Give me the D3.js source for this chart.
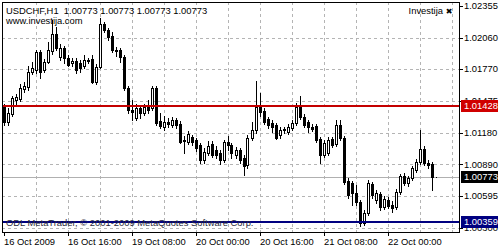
<!DOCTYPE html>
<html>
<head>
<meta charset="utf-8">
<script src="https://cdn.jsdelivr.net/npm/d3@7"></script>
<style>
  body { margin: 0; background: white; }
  text { font-family: "Liberation Sans", Arial, sans-serif; }
</style>
</head>
<body>
<div class="chart"></div>
<script>

// H1 candles, one per bar index
var opens = [1.01421,1.01282,1.01356,1.01485,1.01495,1.01587,1.01606,1.01744,1.01763,1.01930,
  1.01763,1.01837,1.01939,1.02096,1.01883,1.01967,1.01874,1.01828,1.01846,1.01828,
  1.01800,1.01856,1.01865,1.01652,1.01791,1.02189,1.02133,1.02078,1.01948,1.01948,
  1.01883,1.01596,1.01393,1.01319,1.01411,1.01365,1.01421,1.01411,1.01596,1.01291,
  1.01235,1.01282,1.01254,1.01300,1.01263,1.01115,1.01097,1.01143,1.01115,1.01069,
  1.00930,1.00995,1.01078,1.01022,1.00995,1.00930,1.01097,1.01069,1.00976,1.01022,
  1.00948,1.00884,1.01134,1.01208,1.01421,1.01383,1.01309,1.01272,1.01254,1.01161,
  1.01208,1.01189,1.01226,1.01272,1.01421,1.01328,1.01282,1.01235,1.01245,1.01124,
  1.00976,1.00995,1.01124,1.01078,1.01254,1.01134,1.00735,1.00717,1.00624,1.00541,
  1.00347,1.00439,1.00708,1.00560,1.00615,1.00495,1.00560,1.00513,1.00495,1.00634,
  1.00782,1.00717,1.00763,1.00837,1.00911,1.01032,1.00902,1.00893,1.00773];
var highs = [1.01448,1.01411,1.01522,1.01541,1.01633,1.01652,1.01800,1.01837,1.01948,1.01948,
  1.01865,1.02022,1.02226,1.02161,1.02004,1.01985,1.01902,1.01874,1.01874,1.01856,
  1.01902,1.01874,1.01902,1.01819,1.02244,1.02207,1.02152,1.02115,1.01976,1.01967,
  1.01902,1.01615,1.01485,1.01448,1.01439,1.01448,1.01485,1.01615,1.01615,1.01365,
  1.01337,1.01319,1.01328,1.01319,1.01291,1.01152,1.01198,1.01161,1.01134,1.01087,
  1.01041,1.01106,1.01106,1.01059,1.01022,1.01115,1.01152,1.01087,1.01050,1.01041,
  1.00976,1.01161,1.01282,1.01661,1.01550,1.01411,1.01328,1.01300,1.01272,1.01235,
  1.01235,1.01263,1.01300,1.01458,1.01522,1.01356,1.01300,1.01263,1.01263,1.01143,
  1.01115,1.01143,1.01143,1.01300,1.01300,1.01152,1.00763,1.00735,1.00698,1.00560,
  1.00467,1.00745,1.00726,1.00652,1.00634,1.00597,1.00587,1.00550,1.00661,1.00800,
  1.00810,1.00782,1.00874,1.00939,1.01208,1.01059,1.00930,1.00911,1.00773];
var lows = [1.01254,1.01254,1.01337,1.01448,1.01476,1.01559,1.01578,1.01726,1.01735,1.01689,
  1.01744,1.01828,1.01911,1.01948,1.01856,1.01828,1.01800,1.01800,1.01735,1.01744,
  1.01782,1.01828,1.01643,1.01633,1.01782,1.02115,1.02041,1.01930,1.01893,1.01837,
  1.01578,1.01365,1.01300,1.01300,1.01319,1.01346,1.01365,1.01393,1.01254,1.01226,
  1.01208,1.01235,1.01235,1.01226,1.01087,1.00995,1.01078,1.01069,1.01013,1.00902,
  1.00902,1.00976,1.00958,1.00948,1.00893,1.00911,1.01022,1.00948,1.00948,1.00902,
  1.00791,1.00856,1.01115,1.01180,1.01337,1.01263,1.01226,1.01189,1.01124,1.01134,
  1.01180,1.01171,1.01208,1.01254,1.01309,1.01235,1.01189,1.01198,1.01097,1.00902,
  1.00958,1.00976,1.01050,1.01059,1.01115,1.00708,1.00578,1.00513,1.00513,1.00319,
  1.00328,1.00421,1.00578,1.00532,1.00467,1.00476,1.00486,1.00449,1.00476,1.00615,
  1.00698,1.00689,1.00745,1.00819,1.00893,1.00884,1.00856,1.00652,1.00773];
var closes = [1.01282,1.01365,1.01504,1.01513,1.01596,1.01615,1.01744,1.01782,1.01930,1.01744,
  1.01837,1.01948,1.02096,1.01967,1.01967,1.01874,1.01809,1.01846,1.01763,1.01782,
  1.01856,1.01846,1.01652,1.01791,1.02189,1.02133,1.02068,1.01948,1.01939,1.01883,
  1.01596,1.01393,1.01374,1.01411,1.01365,1.01421,1.01393,1.01596,1.01272,1.01245,
  1.01282,1.01263,1.01300,1.01254,1.01097,1.01106,1.01171,1.01097,1.01041,1.00930,
  1.01004,1.01059,1.00976,1.00976,1.00930,1.01097,1.01069,1.00995,1.01022,1.00930,
  1.00874,1.01134,1.01208,1.01421,1.01374,1.01282,1.01254,1.01235,1.01134,1.01208,
  1.01217,1.01235,1.01272,1.01421,1.01328,1.01254,1.01235,1.01217,1.01115,1.00976,
  1.01087,1.01115,1.01069,1.01254,1.01134,1.00726,1.00606,1.00624,1.00541,1.00347,
  1.00439,1.00717,1.00606,1.00624,1.00495,1.00569,1.00504,1.00486,1.00634,1.00782,
  1.00717,1.00763,1.00856,1.00911,1.01032,1.00902,1.00884,1.00773,1.00773];

// price axis labels and time axis labels
var priceTicks = [1.02355, 1.02060, 1.01770, 1.01475, 1.01180, 1.00890, 1.00595, 1.00300];
var timeTickBars = [0, 16, 32, 48, 64, 80, 96];
var timeTickLabels = ["16 Oct 2009", "16 Oct 16:00", "19 Oct 08:00", "20 Oct 00:00",
  "20 Oct 16:00", "21 Oct 08:00", "22 Oct 00:00"];

// horizontal line objects + bid
var resistance = 1.01428;
var support = 1.00359;
var bid = 1.00773;

var width = 500, height = 250;
var plot = {left: 2, top: 2, right: 460, bottom: 232};
var fs = 9.4;

var candles = opens.map((o, i) => ({i: i, o: o, h: highs[i], l: lows[i], c: closes[i]}));

var x = d3.scaleLinear().domain([0, 112]).range([3.5, 451.5]);
var y = d3.scaleLinear().domain([1.00300, 1.02355]).range([228, 6]);

var svg = d3.select(".chart").append("svg")
  .attr("width", width)
  .attr("height", height)
  .style("shape-rendering", "crispEdges");

svg.append("rect").attr("width", width).attr("height", height).attr("fill", "white");

svg.append("clipPath").attr("id", "plotclip")
  .append("rect")
  .attr("x", plot.left).attr("y", plot.top)
  .attr("width", plot.right - plot.left).attr("height", plot.bottom - plot.top);

var g = svg.append("g").attr("clip-path", "url(#plotclip)");

// dashed grid
var gridColor = "#b4b4b4";
g.append("g")
  .selectAll("line")
  .data(d3.range(8, 113, 8))
  .enter()
  .append("line")
  .attr("x1", d => Math.round(x(d)) + 0.5)
  .attr("x2", d => Math.round(x(d)) + 0.5)
  .attr("y1", plot.top)
  .attr("y2", plot.bottom)
  .attr("stroke", gridColor)
  .attr("stroke-dasharray", "3,3");

g.append("g")
  .selectAll("line")
  .data(priceTicks.slice(1))
  .enter()
  .append("line")
  .attr("x1", plot.left)
  .attr("x2", plot.right)
  .attr("y1", d => Math.round(y(d)) + 0.5)
  .attr("y2", d => Math.round(y(d)) + 0.5)
  .attr("stroke", gridColor)
  .attr("stroke-dasharray", "3,3");

// bid line
g.append("line")
  .attr("x1", plot.left).attr("x2", plot.right)
  .attr("y1", Math.round(y(bid)) + 0.5).attr("y2", Math.round(y(bid)) + 0.5)
  .attr("stroke", "#b0b0b0");

// candles
var cg = g.append("g")
  .selectAll("g")
  .data(candles)
  .enter()
  .append("g");

cg.append("line")
  .attr("x1", d => Math.round(x(d.i)) + 0.5)
  .attr("x2", d => Math.round(x(d.i)) + 0.5)
  .attr("y1", d => Math.round(y(d.h)))
  .attr("y2", d => Math.round(y(d.l)) + 1)
  .attr("stroke", "black");

cg.append("rect")
  .attr("x", d => Math.round(x(d.i)) - 0.5)
  .attr("y", d => Math.round(y(Math.max(d.o, d.c))) + 0.5)
  .attr("width", 2)
  .attr("height", d => Math.max(0, Math.round(y(Math.min(d.o, d.c))) - Math.round(y(Math.max(d.o, d.c)))))
  .attr("fill", d => d.c > d.o ? "white" : "black")
  .attr("stroke", "black");

// copyright text sits under the support line
svg.append("text")
  .attr("x", 6)
  .attr("y", 226)
  .style("font-size", fs + "px")
  .attr("fill", "#2a2a3a")
  .text("ODL MetaTrader, \u00a9 2001-2009 MetaQuotes Software Corp.");

// horizontal line objects
g.append("line")
  .attr("x1", plot.left).attr("x2", plot.right)
  .attr("y1", Math.round(y(resistance))).attr("y2", Math.round(y(resistance)))
  .attr("stroke", "#c40000").attr("stroke-width", 2);

g.append("line")
  .attr("x1", plot.left).attr("x2", plot.right)
  .attr("y1", Math.round(y(support))).attr("y2", Math.round(y(support)))
  .attr("stroke", "#000080").attr("stroke-width", 2);

// frame
svg.append("rect")
  .attr("x", plot.left + 0.5).attr("y", plot.top + 0.5)
  .attr("width", plot.right - plot.left - 1).attr("height", plot.bottom - plot.top)
  .attr("fill", "none")
  .attr("stroke", "black");

// price axis
var ya = svg.append("g");
ya.selectAll("line")
  .data(priceTicks)
  .enter()
  .append("line")
  .attr("x1", plot.right).attr("x2", plot.right + 3)
  .attr("y1", d => Math.round(y(d)) + 0.5).attr("y2", d => Math.round(y(d)) + 0.5)
  .attr("stroke", "black");

ya.selectAll("text")
  .data(priceTicks)
  .enter()
  .append("text")
  .attr("x", plot.right + 4)
  .attr("y", d => y(d))
  .attr("dy", "0.35em")
  .style("font-size", fs + "px")
  .attr("fill", "black")
  .text(d => d.toFixed(5));

// price tags for the lines
var tags = [
  {v: resistance, bg: "#d00000"},
  {v: bid, bg: "black"},
  {v: support, bg: "#000080"}
];
var tg = svg.append("g")
  .selectAll("g")
  .data(tags)
  .enter()
  .append("g")
  .attr("transform", d => "translate(" + (plot.right + 1) + "," + Math.round(y(d.v)) + ")");

tg.append("rect")
  .attr("x", 0).attr("y", -6)
  .attr("width", 37).attr("height", 12)
  .attr("fill", d => d.bg);

tg.append("text")
  .attr("x", 3).attr("y", 0).attr("dy", "0.35em")
  .style("font-size", fs + "px")
  .attr("fill", "white")
  .text(d => d.v.toFixed(5));

// time axis
var xa = svg.append("g");
xa.selectAll("line")
  .data(timeTickBars)
  .enter()
  .append("line")
  .attr("x1", d => Math.round(x(d)) + 0.5).attr("x2", d => Math.round(x(d)) + 0.5)
  .attr("y1", plot.bottom).attr("y2", plot.bottom + 4)
  .attr("stroke", "black");

xa.selectAll("text")
  .data(timeTickBars)
  .enter()
  .append("text")
  .attr("x", d => Math.round(x(d)))
  .attr("y", 245)
  .style("font-size", fs + "px")
  .attr("fill", "black")
  .text((d, i) => timeTickLabels[i]);

// header texts
svg.append("text")
  .attr("x", 6).attr("y", 14)
  .style("font-size", fs + "px")
  .style("white-space", "pre")
  .text("USDCHF,H1  " + [closes[closes.length - 1], highs[highs.length - 1], lows[lows.length - 1], closes[closes.length - 1]].map(v => v.toFixed(5)).join(" "));

svg.append("text")
  .attr("x", 6).attr("y", 24)
  .style("font-size", fs + "px")
  .text("www.investija.com");

svg.append("text")
  .attr("x", 443).attr("y", 14)
  .attr("text-anchor", "end")
  .style("font-size", fs + "px")
  .text("Investija");

svg.append("text")
  .attr("x", 449).attr("y", 14)
  .attr("text-anchor", "middle")
  .style("font-family", "DejaVu Sans")
  .style("font-size", "8px")
  .text("\u2716");

</script>
</body>
</html>
